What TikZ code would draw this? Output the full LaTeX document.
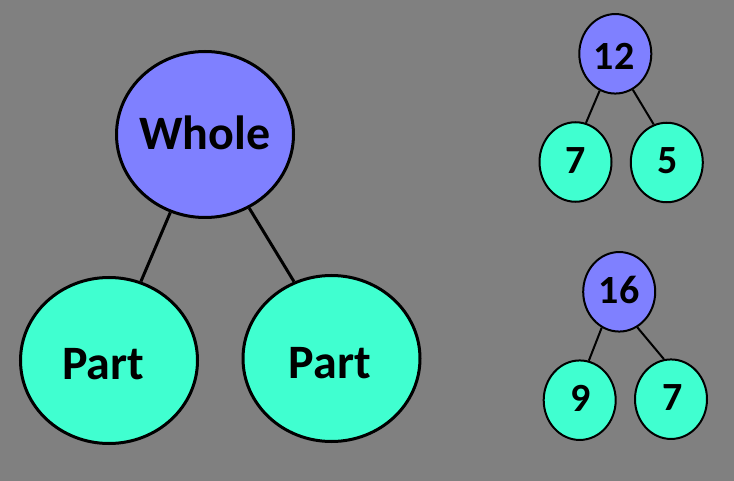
\documentclass[tikz,border=0pt]{standalone}
\usepackage{fontspec}
\setmainfont{Carlito}
\usetikzlibrary{shapes.geometric}
\definecolor{bgray}{HTML}{808080}
\definecolor{wholeblue}{HTML}{7F80FF}
\definecolor{partteal}{HTML}{40FFD0}
\tikzset{
  bigwhole/.style={ellipse,draw=black,line width=3pt,fill=wholeblue,minimum width=177pt,minimum height=166pt,inner sep=0pt},
  bigpart/.style={ellipse,draw=black,line width=3pt,fill=partteal,minimum width=177pt,minimum height=166pt,inner sep=0pt},
  smallwhole/.style={ellipse,draw=black,line width=2pt,fill=wholeblue,minimum width=72pt,minimum height=79.5pt,inner sep=0pt},
  smallpart/.style={ellipse,draw=black,line width=2pt,fill=partteal,minimum width=72pt,minimum height=79.5pt,inner sep=0pt},
  bigtxt/.style={anchor=base,inner sep=0pt,font=\fontsize{48}{48}\selectfont\bfseries},
  smalltxt/.style={anchor=base,inner sep=0pt,font=\fontsize{40}{40}\selectfont\bfseries},
  bigline/.style={draw=black,line width=3pt},
  smallline/.style={draw=black,line width=2pt}
}
\begin{document}
\begin{tikzpicture}[x=1pt,y=-1pt]
\useasboundingbox (0,0) rectangle (734,481);
\fill[bgray] (0,0) rectangle (734,481);
% big tree
\node[bigwhole] (w) at (205,134.5) {};
\node[bigpart] (pl) at (109,360.5) {};
\node[bigpart] (pr) at (331.5,358.5) {};
\draw[bigline] (w.246) -- (pl.68);
\draw[bigline] (w.301) -- (pr.116);
\node[bigtxt] (tw) at (205,150) {Whole};
\node[bigtxt] (tpl) at (103.3,379.3) {Part};
\node[bigtxt] (tpr) at (329.7,378.3) {Part};
% small tree 1
\node[smallwhole] (a) at (615.3,53.8) {};
\node[smallpart] (al) at (575.5,162) {};
\node[smallpart] (ar) at (666.8,162.5) {};
\draw[smallline] (a.247) -- (al.75);
\draw[smallline] (a.296) -- (ar.109);
\node[smalltxt] (ta) at (614,70) {12};
\node[smalltxt] (tal) at (575.5,173.3) {7};
\node[smalltxt] (tar) at (668,173.3) {5};
% small tree 2
\node[smallwhole] (b) at (619.2,291.8) {};
\node[smallpart] (bl) at (579.7,400.2) {};
\node[smallpart] (br) at (671,399.2) {};
\draw[smallline] (b.244) -- (bl.77);
\draw[smallline] (b.297) -- (br.100);
\node[smalltxt] (tb) at (619,303.3) {16};
\node[smalltxt] (tbl) at (581,411) {9};
\node[smalltxt] (tbr) at (672.5,410) {7};
\end{tikzpicture}
\end{document}
